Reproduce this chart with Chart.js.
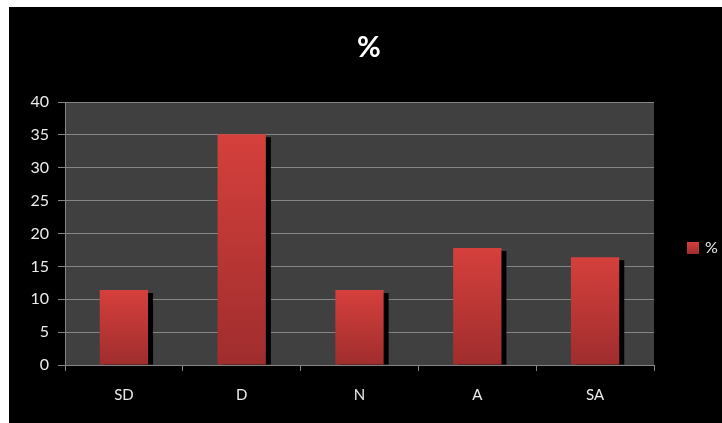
<!DOCTYPE html>
<html>
<head>
<meta charset="utf-8">
<script src="https://cdn.jsdelivr.net/npm/chart.js@4/dist/chart.umd.min.js"></script>
<style>
  html, body { margin: 0; padding: 0; background: #ffffff; width: 722px; height: 423px; overflow: hidden; }
  #frame { position: absolute; left: 9px; top: 7px; width: 713px; height: 416px; background: #000000; }
  canvas { display: block; }
</style>
</head>
<body>
<div id="frame"><canvas id="chart" width="713" height="416"></canvas></div>
<script>
const categories = ['SD', 'D', 'N', 'A', 'SA'];
const percentValues = [11.4, 35.1, 11.4, 17.8, 16.4];
const seriesName = '%';
const titleText = '%';

const TEXT = '#ececec';
const GRID = '#858585';
const FONT = 'Lato, "Open Sans", sans-serif';

function barGradient(ctx, top, bottom) {
  const g = ctx.createLinearGradient(0, top, 0, bottom);
  g.addColorStop(0, '#d5403c');
  g.addColorStop(1, '#9f2d2d');
  return g;
}

// Dark plot background, bar drop shadows, title and legend
const decor = {
  id: 'decor',
  beforeDraw(chart) {
    const { ctx, chartArea: a } = chart;
    ctx.save();
    ctx.fillStyle = '#404040';
    ctx.fillRect(a.left, a.top, a.right - a.left, a.bottom - a.top);
    ctx.restore();
  },
  beforeDatasetsDraw(chart) {
    const { ctx } = chart;
    const meta = chart.getDatasetMeta(0);
    ctx.save();
    ctx.fillStyle = '#000000';
    meta.data.forEach(bar => {
      const left = bar.x - bar.width / 2 + 5;
      const top = bar.y + 3;
      ctx.fillRect(left, top, bar.width, bar.base - top);
    });
    ctx.restore();
  },
  afterDraw(chart) {
    const { ctx } = chart;
    ctx.save();
    ctx.fillStyle = '#ffffff';
    ctx.font = 'bold 29px ' + FONT;
    ctx.textAlign = 'center';
    ctx.textBaseline = 'middle';
    ctx.fillText(titleText, 360, 41);

    ctx.fillStyle = barGradient(ctx, 235, 247);
    ctx.fillRect(678, 235, 12, 12);
    ctx.fillStyle = TEXT;
    ctx.font = '16px ' + FONT;
    ctx.textAlign = 'left';
    ctx.fillText(seriesName, 696, 241);
    ctx.restore();
  }
};

new Chart(document.getElementById('chart'), {
  type: 'bar',
  data: {
    labels: categories,
    datasets: [{
      label: seriesName,
      data: percentValues,
      backgroundColor(context) {
        const chart = context.chart;
        const y = chart.scales && chart.scales.y;
        if (!chart.chartArea || !y || context.raw === undefined) return '#c63a36';
        return barGradient(chart.ctx, y.getPixelForValue(context.raw), y.getPixelForValue(0));
      },
      borderWidth: 0,
      categoryPercentage: 1,
      barPercentage: 0.41
    }]
  },
  options: {
    responsive: false,
    animation: false,
    layout: { padding: { left: 0, top: 95, right: 68, bottom: 0 } },
    plugins: {
      legend: { display: false },
      title: { display: false },
      tooltip: { enabled: false }
    },
    scales: {
      x: {
        grid: { drawOnChartArea: false, drawTicks: true, tickLength: 6, color: GRID, offset: true },
        border: { display: true, color: GRID, width: 1 },
        ticks: { color: TEXT, font: { family: FONT, size: 15 }, padding: 15 },
        afterFit(scale) { scale.height = 58; }
      },
      y: {
        min: 0,
        max: 40,
        ticks: { stepSize: 5, color: TEXT, font: { family: FONT, size: 16 }, padding: 9 },
        grid: { color: GRID, lineWidth: 1, tickLength: 7, drawTicks: true },
        border: { display: true, color: GRID, width: 1 },
        afterFit(scale) { scale.width = 56; }
      }
    }
  },
  plugins: [decor]
});
</script>
</body>
</html>
